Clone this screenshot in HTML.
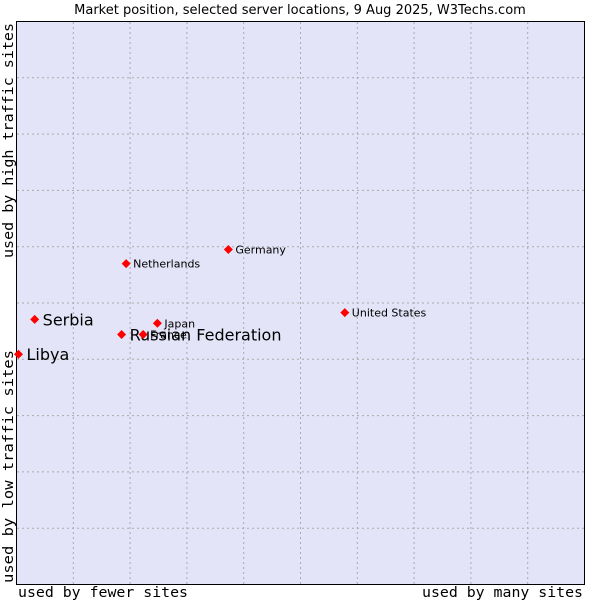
<!DOCTYPE html>
<html><head><meta charset="utf-8"><style>
body{margin:0;background:#fff;font-family:"DejaVu Sans","Liberation Sans",sans-serif}
svg text{font-family:"DejaVu Sans",sans-serif}
svg text.mono{font-family:"DejaVu Sans Mono","Liberation Mono",monospace}
</style></head><body>
<svg id="chart" width="600" height="600">
<text x="300" y="14" text-anchor="middle" font-size="13" fill="#000">Market position, selected server locations, 9 Aug 2025, W3Techs.com</text>
<rect x="16.5" y="21.5" width="568" height="563" fill="#e4e4f8" stroke="#000"/>
<g id="grid"></g>
<g id="pts"></g>
<text class="mono" x="18" y="597" font-size="14" textLength="170" lengthAdjust="spacingAndGlyphs">used by fewer sites</text>
<text class="mono" x="422" y="597" font-size="14" textLength="161" lengthAdjust="spacingAndGlyphs">used by many sites</text>
<text class="mono" transform="translate(13,583) rotate(-90)" font-size="14" textLength="233" lengthAdjust="spacingAndGlyphs">used by low traffic sites</text>
<text class="mono" transform="translate(13,258) rotate(-90)" font-size="14" textLength="235" lengthAdjust="spacingAndGlyphs">used by high traffic sites</text>
</svg>
<script>
const names=["Libya","Serbia","Russian Federation","France","Japan","Netherlands","Germany","United States"];
const xs=[0.35,3.2,18.5,22.3,24.8,19.3,37.3,57.8];
const ys=[40.9,47.1,44.4,44.4,46.4,57.0,59.5,48.3];
const big=[true,true,true,false,false,false,false,false];
const ns="http://www.w3.org/2000/svg";
const X=v=>16.5+v/100*568, Y=v=>584.5-v/100*563;
const g=document.getElementById('grid'),p=document.getElementById('pts');
for(let i=1;i<10;i++){
 const l=document.createElementNS(ns,'line');
 
 
 l.setAttribute('x1',X(i*10));l.setAttribute('x2',X(i*10));l.setAttribute('y1',22);l.setAttribute('y2',584);
 l.setAttribute('stroke','#aaa');l.setAttribute('stroke-dasharray','2,3');g.appendChild(l);
 const h=document.createElementNS(ns,'line');
 
 
 h.setAttribute('y1',Y(i*10));h.setAttribute('y2',Y(i*10));h.setAttribute('x1',17);h.setAttribute('x2',584);
 h.setAttribute('stroke','#aaa');h.setAttribute('stroke-dasharray','2,3');g.appendChild(h);
}
names.forEach((n,i)=>{
 const cx=X(xs[i]),cy=Y(ys[i]);
 const d=document.createElementNS(ns,'path');
 
 
 d.setAttribute('d',`M${cx-4.5},${cy}L${cx},${cy-4.5}L${cx+4.5},${cy}L${cx},${cy+4.5}Z`);
 d.setAttribute('fill','#f00');p.appendChild(d);
 const t=document.createElementNS(ns,'text');
 
 
 t.setAttribute('x',cx+(big[i]?8:7));t.setAttribute('y',cy+(big[i]?6:4));
 t.setAttribute('font-size',big[i]?16:11);t.textContent=n;p.appendChild(t);
});
</script>
</body></html>
